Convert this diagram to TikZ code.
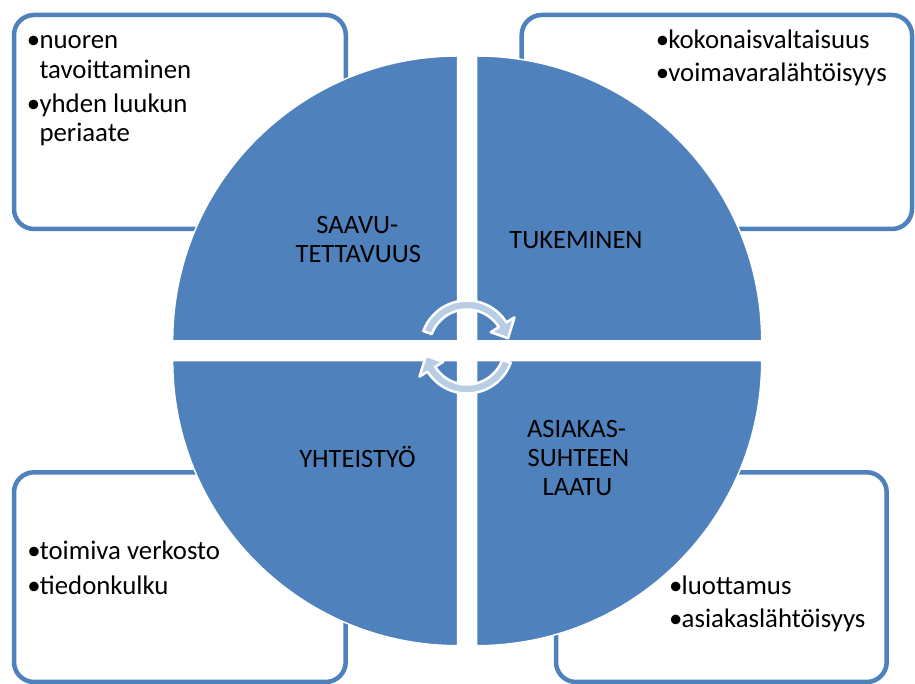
\documentclass[tikz,border=0pt]{standalone}
\usepackage{fontspec}
\setmainfont{Carlito}
\definecolor{qblue}{HTML}{4F81BD}
\definecolor{arrowblue}{HTML}{B9CDE5}
\newcommand{\bul}{\makebox[12.5pt][l]{•}}
\begin{document}
\begin{tikzpicture}[x=1pt,y=1pt,
  infobox/.style={draw=qblue, line width=4.5pt, rounded corners=20pt},
  quad/.style={fill=qblue, draw=white, line width=1.5pt},
  qlabel/.style={font=\fontsize{26.5}{29}\selectfont, inner sep=0pt, anchor=base},
  bline/.style={font=\fontsize{26.8}{30}\selectfont, inner sep=0pt, anchor=base west},
  cyclearrow/.style={fill=arrowblue, draw=white, line width=2.5pt, line join=round}]
\useasboundingbox (0,0) rectangle (915,684);

% text boxes
\draw[infobox] (14,455) rectangle (345.8,669);
\draw[infobox] (521.7,455) rectangle (912,669);
\draw[infobox] (14,2) rectangle (345.7,211.7);
\draw[infobox] (556,2) rectangle (886.7,211.7);

% quadrants
\path[quad] (457.7,343) -- ++(-285,0) arc (180:90:285) -- cycle;
\path[quad] (476.7,343) -- ++(0,285) arc (90:0:285) -- cycle;
\path[quad] (457.7,323.3) -- ++(0,-285) arc (270:180:285) -- cycle;
\path[quad] (476.7,323.3) -- ++(285,0) arc (0:-90:285) -- cycle;

% quadrant labels
\node[qlabel] (saav1) at (357.3,450) {SAAVU-};
\node[qlabel] (saav2) at (358.3,421.3) {TETTAVUUS};
\node[qlabel] (tuke) at (576,435) {TUKEMINEN};
\node[qlabel] (yhte) at (357.5,216.3) {YHTEISTYÖ};
\node[qlabel] (asia1) at (576.5,246) {ASIAKAS-};
\node[qlabel] (asia2) at (578.5,217.3) {SUHTEEN};
\node[qlabel] (asia3) at (577.5,188) {LAATU};

% bullet lists
\node[bline] (tl1) at (26.8,635) {\bul nuoren};
\node[bline] (tl2) at (39.3,605) {tavoittaminen};
\node[bline] (tl3) at (26.8,571) {\bul yhden luukun};
\node[bline] (tl4) at (39.3,542) {periaate};
\node[bline] (tr1) at (655.6,635.7) {\bul kokonaisvaltaisuus};
\node[bline] (tr2) at (655.6,602.3) {\bul voimavaralähtöisyys};
\node[bline] (bl1) at (27.2,124) {\bul toimiva verkosto};
\node[bline] (bl2) at (27.2,89) {\bul tiedonkulku};
\node[bline] (br1) at (669,89) {\bul luottamus};
\node[bline] (br2) at (669,56) {\bul asiakaslähtöisyys};

% central cycle arrows
\coordinate (ctr) at (467,337);
\begin{scope}[shift={(ctr)}]
\path[cyclearrow] (160:46.5) arc (160:32:46.5) -- (32:56) -- (12:42) -- (32:28) -- (32:37.5) arc (32:160:37.5) -- cycle;
\path[cyclearrow] (-20:46.5) arc (-20:-148:46.5) -- (-148:56) -- (-168:42) -- (-148:28) -- (-148:37.5) arc (-148:-20:37.5) -- cycle;
\end{scope}
\end{tikzpicture}
\end{document}
